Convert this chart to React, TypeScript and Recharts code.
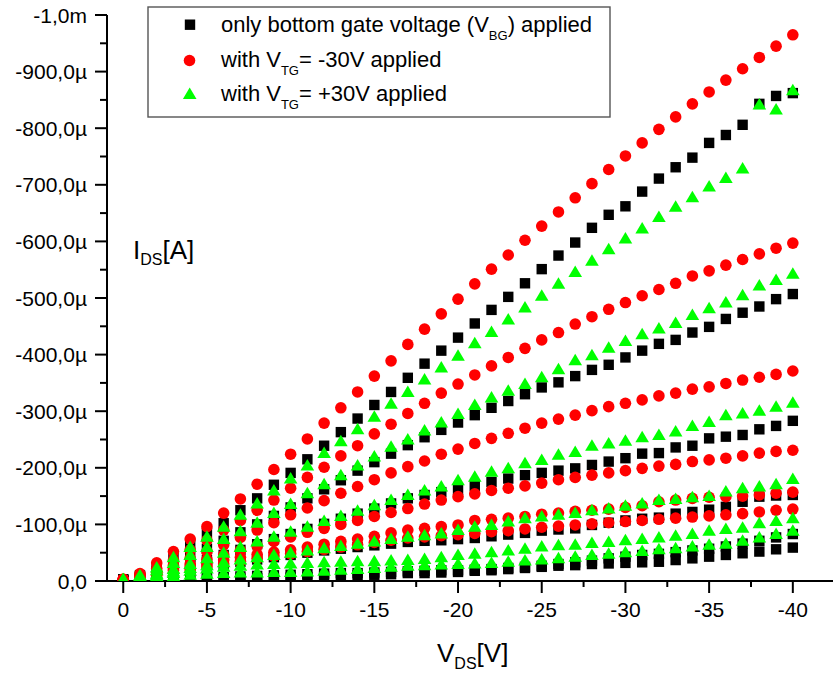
import React from "react";
import { ScatterChart, Scatter, XAxis, YAxis } from "recharts";

// drain-source voltage steps (V)
const vds = [
  0, -1, -2, -3, -4, -5, -6, -7, -8, -9, -10, -11, -12, -13, -14, -15, -16, -17, -18, -19, -20,
  -21, -22, -23, -24, -25, -26, -27, -28, -29, -30, -31, -32, -33, -34, -35, -36, -37, -38, -39, -40,
];

// |I_DS| in µA, only bottom gate voltage applied (black squares), one array per V_BG
const bg1 = [3, 10, 25, 45, 65, 85, 102, 125, 146, 170, 191, 215, 239, 263, 287, 311, 334, 359, 384, 407, 430, 455, 479, 502, 526, 551, 575, 598, 624, 647, 662, 688, 711, 731, 748, 774, 788, 806, 843, 857, 862];
const bg2 = [2, 8, 18, 30, 43, 57, 71, 86, 100, 115, 130, 146, 162, 178, 195, 210, 225, 240, 254, 267, 280, 293, 306, 318, 330, 342, 351, 362, 373, 382, 395, 407, 419, 426, 439, 449, 463, 474, 485, 498, 507];
const bg3 = [2, 6, 12, 20, 28, 37, 46, 55, 65, 74, 83, 92, 101, 110, 119, 128, 137, 146, 152, 157, 161, 168, 175, 181, 187, 191, 195, 199, 205, 211, 217, 225, 226, 236, 239, 252, 255, 258, 268, 274, 283];
const bg4 = [1, 4, 9, 14, 19, 24, 29, 34, 38, 42, 46, 50, 54, 57, 60, 63, 66, 69, 71, 72, 74, 76, 79, 82, 85, 89, 91, 93, 99, 103, 107, 110, 112, 119, 122, 126, 131, 140, 149, 151, 152];
const bg5 = [0, 2, 3, 4, 5, 6, 7, 8, 9, 10, 11, 12, 13, 14, 14, 15, 16, 17, 18, 19, 19, 20, 21, 23, 25, 27, 30, 33, 36, 40, 43, 46, 48, 51, 54, 57, 61, 66, 71, 77, 83];
const bg6 = [0, 1, 2, 2, 3, 3, 4, 4, 5, 5, 6, 7, 8, 9, 10, 11, 12, 14, 14, 15, 16, 18, 19, 21, 23, 25, 27, 28, 30, 31, 32, 33, 34, 37, 40, 43, 46, 49, 52, 56, 59];

// with V_TG = -30V (red circles)
const neg1 = [3, 13, 32, 52, 74, 96, 120, 145, 171, 197, 224, 251, 279, 306, 334, 362, 389, 418, 445, 472, 498, 525, 551, 576, 602, 627, 652, 677, 702, 727, 751, 774, 798, 820, 843, 864, 885, 905, 925, 945, 965];
const neg2 = [3, 11, 22, 37, 55, 72, 90, 107, 125, 143, 164, 183, 201, 221, 239, 260, 277, 296, 314, 332, 348, 364, 380, 395, 411, 426, 439, 454, 467, 480, 492, 504, 515, 526, 539, 548, 558, 568, 578, 588, 597];
const neg3 = [3, 9, 17, 28, 40, 52, 64, 77, 90, 103, 117, 129, 142, 155, 167, 179, 191, 202, 212, 224, 233, 243, 252, 261, 270, 279, 286, 293, 301, 308, 314, 320, 327, 332, 339, 343, 349, 355, 360, 365, 371];
const neg4 = [2, 7, 14, 22, 30, 38, 46, 54, 62, 70, 78, 86, 93, 100, 107, 114, 121, 128, 136, 143, 149, 154, 160, 164, 168, 173, 179, 183, 187, 191, 195, 199, 203, 206, 211, 214, 217, 221, 226, 229, 231];
const neg5 = [2, 7, 13, 19, 25, 31, 37, 42, 47, 51, 55, 60, 65, 70, 74, 79, 85, 90, 93, 96, 99, 107, 109, 111, 114, 118, 120, 123, 125, 127, 130, 133, 140, 143, 146, 148, 149, 150, 152, 155, 157];
const neg6 = [2, 5, 10, 15, 20, 25, 30, 35, 40, 44, 48, 52, 56, 60, 64, 68, 72, 76, 78, 80, 82, 84, 87, 89, 92, 95, 97, 99, 101, 103, 105, 107, 109, 111, 113, 115, 117, 119, 122, 125, 127];

// with V_TG = +30V (green triangles)
const pos1 = [3, 10, 24, 42, 60, 78, 96, 117, 137, 160, 181, 204, 226, 247, 268, 290, 313, 334, 356, 377, 398, 420, 440, 462, 483, 504, 525, 546, 566, 586, 605, 623, 643, 661, 678, 697, 712, 729, 842, 833, 867];
const pos2 = [3, 9, 19, 32, 46, 60, 74, 88, 103, 120, 136, 155, 171, 187, 204, 220, 237, 250, 266, 280, 295, 311, 324, 336, 348, 360, 374, 390, 399, 412, 424, 436, 446, 456, 470, 482, 492, 505, 522, 532, 543];
const pos3 = [2, 6, 13, 21, 30, 40, 50, 60, 70, 78, 87, 96, 106, 115, 124, 134, 143, 152, 160, 167, 178, 184, 193, 199, 208, 214, 223, 228, 239, 243, 248, 254, 258, 264, 274, 281, 293, 296, 301, 308, 315];
const pos4 = [2, 5, 11, 17, 23, 28, 33, 38, 42, 46, 50, 54, 58, 62, 66, 70, 74, 78, 81, 84, 90, 96, 99, 105, 111, 114, 117, 120, 125, 128, 133, 137, 143, 145, 148, 150, 158, 164, 167, 171, 180];
const pos5 = [1, 4, 9, 14, 18, 22, 25, 27, 29, 30, 31, 32, 33, 34, 35, 35, 36, 37, 39, 42, 46, 48, 51, 54, 57, 61, 63, 64, 67, 69, 72, 74, 77, 80, 83, 89, 92, 94, 102, 106, 111];
const pos6 = [1, 3, 6, 9, 11, 13, 14, 15, 15, 16, 16, 17, 18, 20, 21, 23, 25, 27, 28, 29, 30, 31, 32, 34, 36, 38, 40, 43, 46, 48, 51, 53, 56, 58, 61, 64, 66, 71, 77, 83, 89];

const xTicks = [0, -2.5, -5, -7.5, -10, -12.5, -15, -17.5, -20, -22.5, -25, -27.5, -30, -32.5, -35, -37.5, -40];
const yTicks = [
  0, -50, -100, -150, -200, -250, -300, -350, -400, -450, -500,
  -550, -600, -650, -700, -750, -800, -850, -900, -950, -1000,
];

const FONT = "'Liberation Sans', Arial, Helvetica, sans-serif";

// current is negative (p-type), values above are magnitudes in µA
const toPoints = (vals: number[]) => vds.map((v, i) => ({ x: v, y: -vals[i] }));

const Square = (p: any) => (
  <rect x={p.cx - 5.2} y={p.cy - 5.2} width={10.4} height={10.4} fill="#000000" />
);
const Dot = (p: any) => <circle cx={p.cx} cy={p.cy} r={5.8} fill="#ff0000" />;
const Tri = (p: any) => (
  <polygon
    points={`${p.cx},${p.cy - 6.5} ${p.cx + 6.8},${p.cy + 5} ${p.cx - 6.8},${p.cy + 5}`}
    fill="#00ff00"
  />
);

const fmtY = (v: number) => {
  if (v === 0) return "0,0";
  if (v === -1000) return "-1,0m";
  return `${v},0µ`;
};

const XTick = (props: any) => {
  const { x, y, payload } = props;
  const v = payload.value;
  const major = v % 5 === 0;
  return (
    <g>
      <line x1={x} y1={y} x2={x} y2={y + (major ? 12 : 6)} stroke="#000" strokeWidth={2} />
      {major && (
        <text x={x} y={y + 36} textAnchor="middle" fontSize={21} fontFamily={FONT} fill="#000">
          {v === 0 ? "0" : String(v)}
        </text>
      )}
    </g>
  );
};

const YTick = (props: any) => {
  const { x, y, payload } = props;
  const v = payload.value;
  const major = v % 100 === 0;
  return (
    <g>
      <line x1={x - (major ? 12 : 7)} y1={y} x2={x} y2={y} stroke="#000" strokeWidth={2} />
      {major && (
        <text x={x - 20} y={y + 7.5} textAnchor="end" fontSize={21} fontFamily={FONT} fill="#000">
          {fmtY(v)}
        </text>
      )}
    </g>
  );
};

const black = [bg1, bg2, bg3, bg4, bg5, bg6];
const red = [neg1, neg2, neg3, neg4, neg5, neg6];
const green = [pos1, pos2, pos3, pos4, pos5, pos6];

export default function App() {
  return (
    <div style={{ position: "absolute", left: 0, top: 0, width: 833, height: 675, background: "#fff" }}>
      <ScatterChart width={833} height={675} margin={{ top: 15, right: 0, bottom: 0, left: 7 }}>
        <XAxis
          type="number"
          dataKey="x"
          domain={[-42.4, 0.97]}
          reversed
          allowDataOverflow
          ticks={xTicks}
          interval={0}
          tickSize={0}
          tickMargin={0}
          tickLine={false}
          tick={<XTick />}
          height={94}
          axisLine={{ stroke: "#000", strokeWidth: 2 }}
        />
        <YAxis
          type="number"
          dataKey="y"
          domain={[-1000, 0]}
          reversed
          allowDataOverflow
          ticks={yTicks}
          interval={0}
          tickSize={0}
          tickMargin={0}
          tickLine={false}
          tick={<YTick />}
          width={100}
          axisLine={{ stroke: "#000", strokeWidth: 2 }}
        />
        {black.map((vals, i) => (
          <Scatter key={`bg${i}`} data={toPoints(vals)} shape={Square} isAnimationActive={false} />
        ))}
        {red.map((vals, i) => (
          <Scatter key={`neg${i}`} data={toPoints(vals)} shape={Dot} isAnimationActive={false} />
        ))}
        {green.map((vals, i) => (
          <Scatter key={`pos${i}`} data={toPoints(vals)} shape={Tri} isAnimationActive={false} />
        ))}
      </ScatterChart>

      <svg
        width={833}
        height={675}
        style={{ position: "absolute", left: 0, top: 0, pointerEvents: "none" }}
        fontFamily={FONT}
      >
        <rect x={148} y={7} width={462} height={110} fill="#fff" stroke="#555" strokeWidth={1.4} />
        <rect x={184.8} y={19.5} width={10.4} height={10.4} fill="#000" />
        <circle cx={189.5} cy={60.5} r={5.8} fill="#ff0000" />
        <polygon points="189.7,87.5 196.5,99 182.9,99" fill="#00ff00" />
        <text x={221} y={32} fontSize={22} fill="#000">
          only bottom gate voltage (V
          <tspan fontSize={13} dy={8}>BG</tspan>
          <tspan dy={-8}>) applied</tspan>
        </text>
        <text x={221} y={67} fontSize={22} fill="#000">
          with V
          <tspan fontSize={13} dy={8}>TG</tspan>
          <tspan dy={-8}>= -30V applied</tspan>
        </text>
        <text x={221} y={101} fontSize={22} fill="#000">
          with V
          <tspan fontSize={13} dy={8}>TG</tspan>
          <tspan dy={-8}>= +30V applied</tspan>
        </text>

        <text x={133} y={259} fontSize={26} fill="#000">
          I
          <tspan fontSize={16} dy={6}>DS</tspan>
          <tspan dy={-6}>[A]</tspan>
        </text>
        <text x={437} y={662} fontSize={26} fill="#000">
          V
          <tspan fontSize={16} dy={7}>DS</tspan>
          <tspan dy={-7}>[V]</tspan>
        </text>
      </svg>
    </div>
  );
}
